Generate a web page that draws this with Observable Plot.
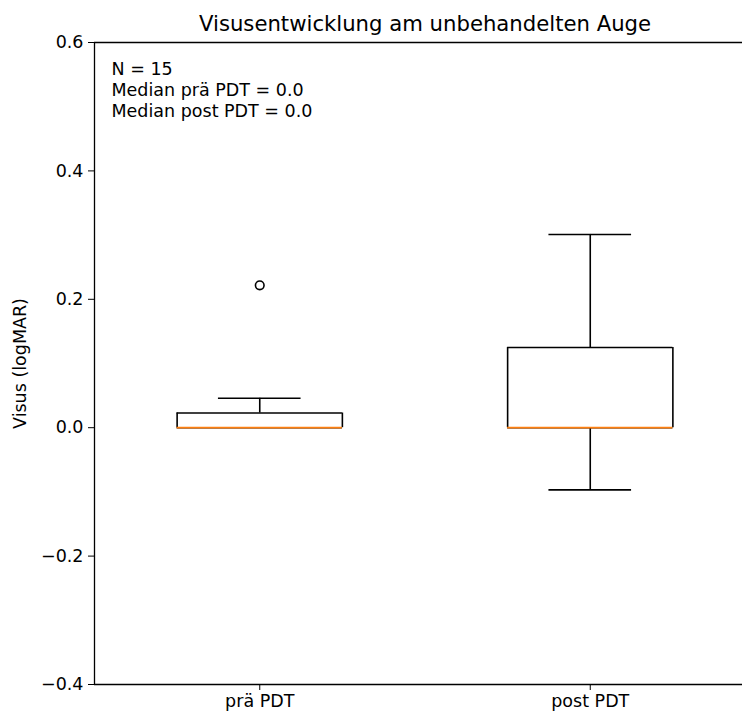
<!DOCTYPE html>
<html>
<head>
<meta charset="utf-8">
<script src="https://cdn.jsdelivr.net/npm/d3@7"></script>
<script src="https://cdn.jsdelivr.net/npm/@observablehq/plot@0.6"></script>
<style>
  html, body { margin: 0; padding: 0; background: #fff; overflow: hidden; }
  svg { font-family: "DejaVu Sans", sans-serif; }
</style>
</head>
<body>
<div id="chart"></div>
<script>
// Categories and box-plot summary statistics
const categories = ["prä PDT", "post PDT"];
const positions = [1, 2];
const whiskerLow = [0.0, -0.0969];
const q1 = [0.0, 0.0];
const median = [0.0, 0.0];
const q3 = [0.0229, 0.1249];
const whiskerHigh = [0.0458, 0.301];
const outliers = [[0.2218], []];
const yTicks = [-0.4, -0.2, 0.0, 0.2, 0.4, 0.6];
const title = "Visusentwicklung am unbehandelten Auge";
const yLabel = "Visus (logMAR)";
const annotation = ["N = 15", "Median prä PDT = 0.0", "Median post PDT = 0.0"];

const boxes = categories.map((c, i) => ({
  cat: c, pos: positions[i], lo: whiskerLow[i], q1: q1[i], med: median[i], q3: q3[i], hi: whiskerHigh[i]
}));
const outlierPts = outliers.flatMap((arr, i) => arr.map(v => ({pos: positions[i], v})));

const boxHalf = 0.25, capHalf = 0.125;
const lw = 1.6;
const fs = 17.5;
const fmt = d3.format(".1f");
const black = "black";

const chart = Plot.plot({
  width: 742,
  height: 713,
  marginLeft: 94,
  marginRight: 0,
  marginTop: 42,
  marginBottom: 29,
  style: {fontFamily: "DejaVu Sans, sans-serif", background: "white", overflow: "hidden"},
  x: {type: "linear", domain: [0.5, 2.5], range: [94, 755]},
  y: {domain: [-0.4, 0.6]},
  marks: [
    // frame (left, top, bottom spines; right spine lies outside the picture)
    Plot.ruleY([0.6, -0.4], {stroke: black, strokeWidth: 1.3}),
    Plot.ruleX([0.5], {y1: -0.4, y2: 0.6, stroke: black, strokeWidth: 1.3}),
    // whiskers
    Plot.ruleX(boxes, {x: "pos", y1: "q3", y2: "hi", stroke: black, strokeWidth: lw}),
    Plot.ruleX(boxes.filter(d => d.lo < d.q1), {x: "pos", y1: "q1", y2: "lo", stroke: black, strokeWidth: lw}),
    // caps
    Plot.ruleY(boxes, {y: "hi", x1: d => d.pos - capHalf, x2: d => d.pos + capHalf, stroke: black, strokeWidth: lw}),
    Plot.ruleY(boxes.filter(d => d.lo < d.q1), {y: "lo", x1: d => d.pos - capHalf, x2: d => d.pos + capHalf, stroke: black, strokeWidth: lw}),
    // boxes (drawn as four edges)
    Plot.ruleY(boxes, {y: "q3", x1: d => d.pos - boxHalf, x2: d => d.pos + boxHalf, stroke: black, strokeWidth: lw}),
    Plot.ruleY(boxes, {y: "q1", x1: d => d.pos - boxHalf, x2: d => d.pos + boxHalf, stroke: black, strokeWidth: lw}),
    Plot.ruleX(boxes, {x: d => d.pos - boxHalf, y1: "q1", y2: "q3", stroke: black, strokeWidth: lw}),
    Plot.ruleX(boxes, {x: d => d.pos + boxHalf, y1: "q1", y2: "q3", stroke: black, strokeWidth: lw}),
    // medians
    Plot.ruleY(boxes, {y: "med", x1: d => d.pos - boxHalf, x2: d => d.pos + boxHalf, stroke: "#ff7f0e", strokeWidth: 1.8}),
    // outliers
    Plot.dot(outlierPts, {x: "pos", y: "v", r: 4.3, stroke: black, fill: "none", strokeWidth: 1.6}),
    // axes
    Plot.axisY({ticks: yTicks, tickFormat: fmt, tickSize: 6, tickPadding: 5, fontSize: fs, label: null, stroke: black, color: black}),
    Plot.axisX({ticks: positions, tickFormat: p => categories[p - 1], tickSize: 6, tickPadding: 4, fontSize: fs, label: null}),
    // title
    Plot.text([title], {x: 1.5, y: 0.6, dy: -12, text: d => d, fontSize: 21.2, lineAnchor: "bottom", fill: black}),
    // y label
    Plot.text([yLabel], {x: 0.5, y: 0.1, dx: -74, text: d => d, rotate: -90, fontSize: fs, fill: black}),
    // annotation
    Plot.text([annotation.join("\n")], {x: 0.5, y: 0.6, dx: 17, dy: 18, text: d => d, textAnchor: "start", lineAnchor: "top", lineHeight: 1.2, fontSize: fs, fill: black})
  ]
});
document.getElementById("chart").appendChild(chart);
</script>
</body>
</html>
